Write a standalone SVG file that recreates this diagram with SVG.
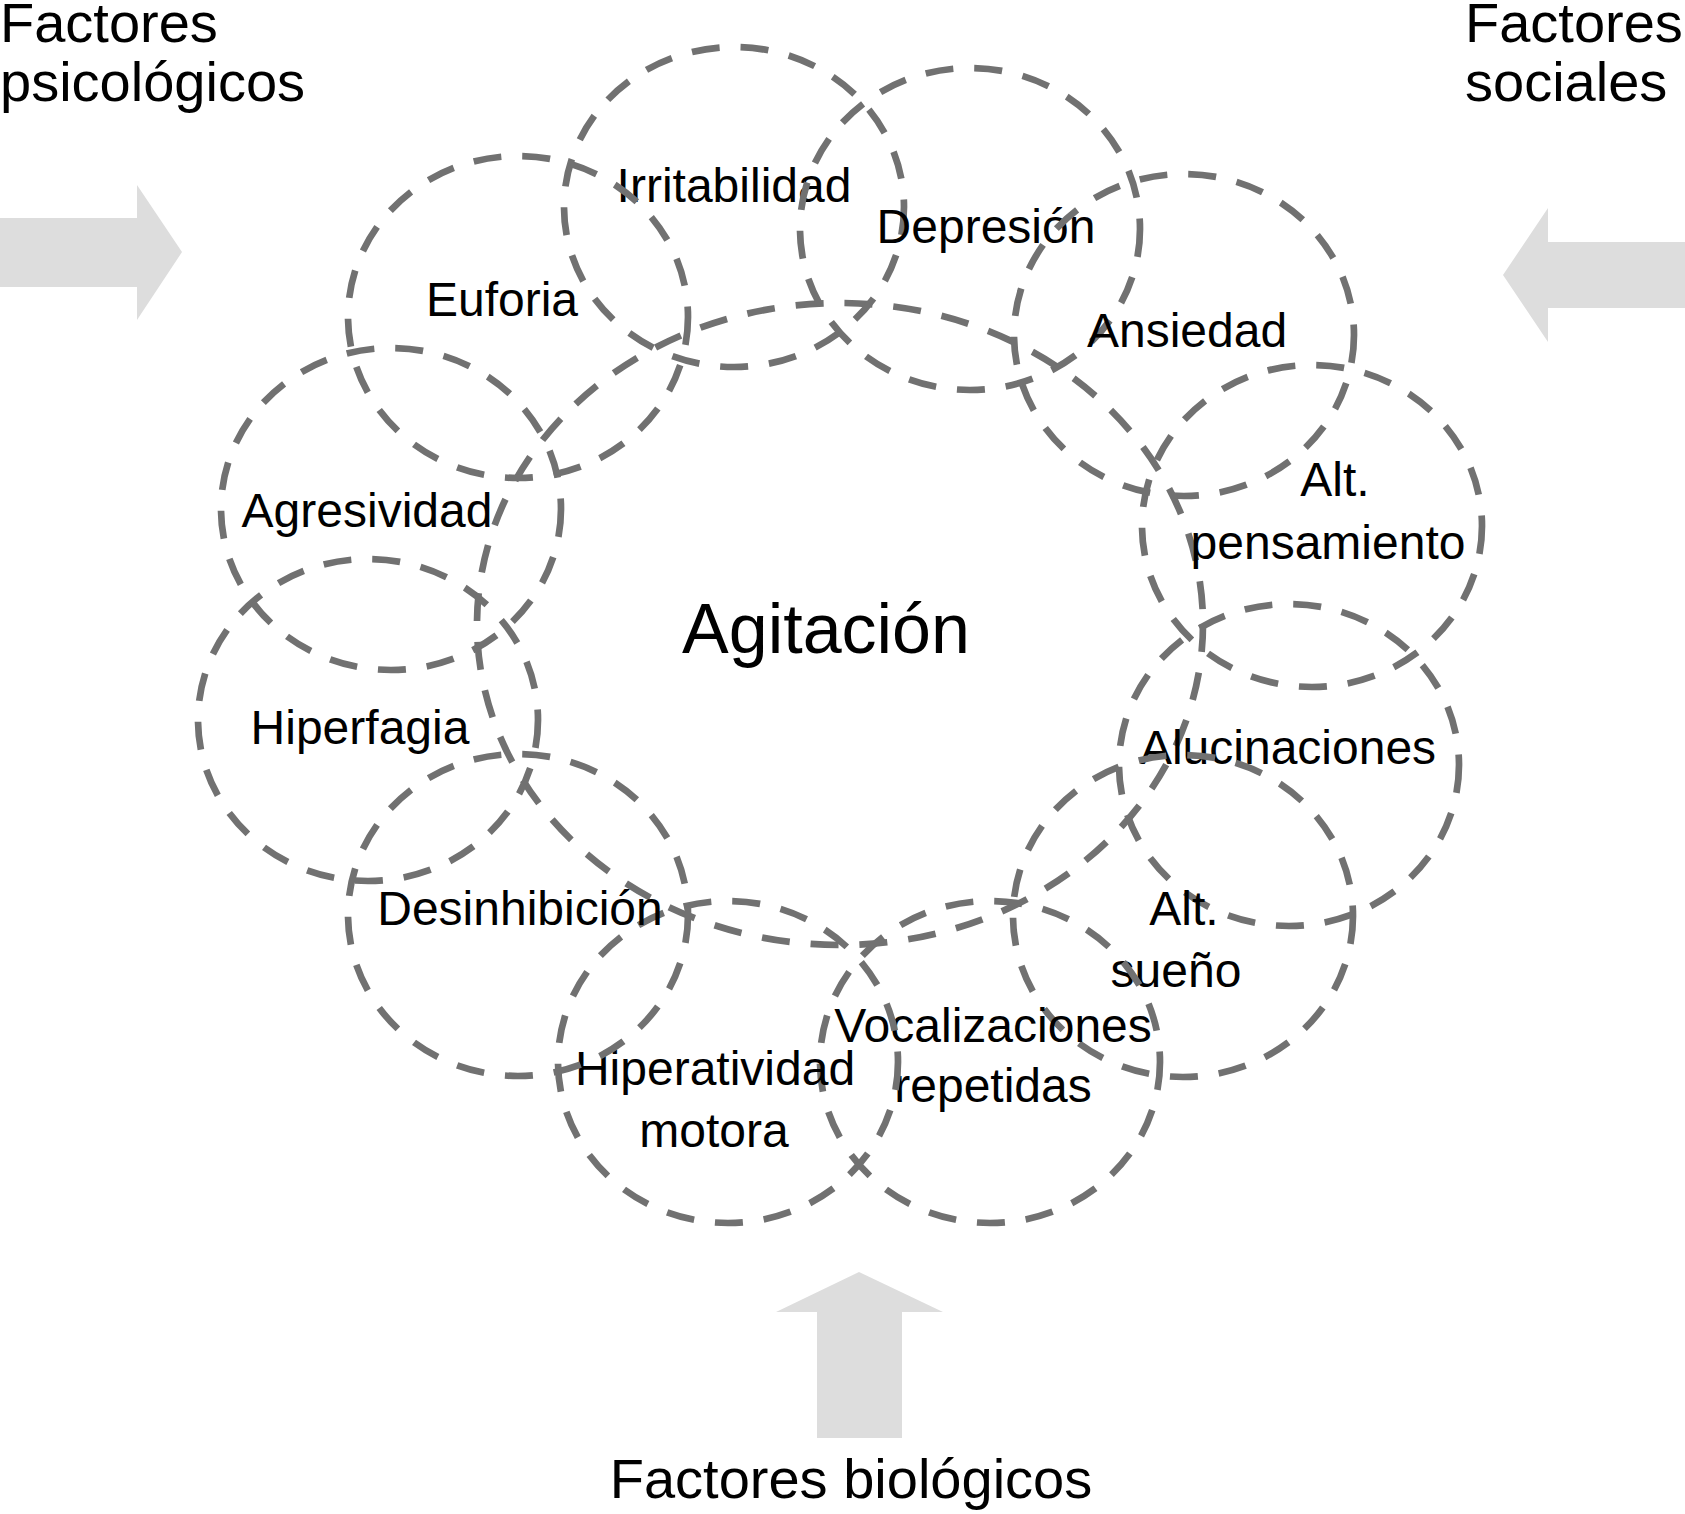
<svg xmlns="http://www.w3.org/2000/svg" width="1685" height="1514" viewBox="0 0 1685 1514">
  <style>
    .bg { fill: #ffffff; }
    .ring { fill: none; stroke: #717171; stroke-width: 6.7; stroke-dasharray: 28 21; }
    .lbl { font-family: "Liberation Sans", Arial, Helvetica, sans-serif; font-size: 48px; fill: #000000; text-anchor: middle; }
    .big { font-family: "Liberation Sans", Arial, Helvetica, sans-serif; font-size: 70px; fill: #000000; text-anchor: middle; }
    .fac { font-family: "Liberation Sans", Arial, Helvetica, sans-serif; font-size: 56px; fill: #000000; }
    .arrow { fill: #dddddd; stroke: none; }
  </style>
  <rect class="bg" x="0" y="0" width="1685" height="1514"/>

  <g id="connectors">
    <polygon id="arrow-psicologicos" class="arrow" points="0,218 137,218 137,185 182,252 137,320 137,287 0,287"/>
    <polygon id="arrow-sociales" class="arrow" points="1685,242 1548,242 1548,208 1503,275 1548,342 1548,308 1685,308"/>
    <polygon id="arrow-biologicos" class="arrow" points="817,1438 817,1312 776,1312 859,1272 943,1312 902,1312 902,1438"/>
  </g>

  <g id="agitacion">
    <ellipse class="ring" cx="840" cy="624" rx="363" ry="321"/>
    <text class="big" x="826" y="653">Agitación</text>
  </g>

  <g id="irritabilidad">
    <ellipse class="ring" cx="734" cy="207" rx="170" ry="160"/>
    <text class="lbl" x="734" y="202">Irritabilidad</text>
  </g>
  <g id="depresion">
    <ellipse class="ring" cx="970" cy="229" rx="170" ry="161"/>
    <text class="lbl" x="986" y="243">Depresión</text>
  </g>
  <g id="ansiedad">
    <ellipse class="ring" cx="1184" cy="335" rx="170" ry="161"/>
    <text class="lbl" x="1187" y="347">Ansiedad</text>
  </g>
  <g id="alt-pensamiento">
    <ellipse class="ring" cx="1312" cy="526" rx="170" ry="161"/>
    <text class="lbl" x="1335" y="496">Alt.</text>
    <text class="lbl" x="1328" y="559">pensamiento</text>
  </g>
  <g id="alucinaciones">
    <ellipse class="ring" cx="1289" cy="765" rx="170" ry="161"/>
    <text class="lbl" x="1288" y="764">Alucinaciones</text>
  </g>
  <g id="alt-sueno">
    <ellipse class="ring" cx="1183" cy="916" rx="170" ry="161"/>
    <text class="lbl" x="1184" y="925">Alt.</text>
    <text class="lbl" x="1176" y="987">sueño</text>
  </g>
  <g id="vocalizaciones">
    <ellipse class="ring" cx="990" cy="1062" rx="170" ry="161"/>
    <text class="lbl" x="993" y="1042">Vocalizaciones</text>
    <text class="lbl" x="993" y="1102">repetidas</text>
  </g>
  <g id="hiperatividad">
    <ellipse class="ring" cx="728" cy="1062" rx="170" ry="161"/>
    <text class="lbl" x="715" y="1085">Hiperatividad</text>
    <text class="lbl" x="714" y="1147">motora</text>
  </g>
  <g id="desinhibicion">
    <ellipse class="ring" cx="518" cy="915" rx="170" ry="161"/>
    <text class="lbl" x="520" y="925">Desinhibición</text>
  </g>
  <g id="hiperfagia">
    <ellipse class="ring" cx="368" cy="720" rx="170" ry="161"/>
    <text class="lbl" x="360" y="744">Hiperfagia</text>
  </g>
  <g id="agresividad">
    <ellipse class="ring" cx="391" cy="509" rx="170" ry="161"/>
    <text class="lbl" x="367" y="527">Agresividad</text>
  </g>
  <g id="euforia">
    <ellipse class="ring" cx="518" cy="317" rx="170" ry="161"/>
    <text class="lbl" x="502" y="316">Euforia</text>
  </g>

  <g id="factores-psicologicos">
    <text class="fac" x="0" y="42">Factores</text>
    <text class="fac" x="0" y="101">psicológicos</text>
  </g>
  <g id="factores-sociales">
    <text class="fac" x="1465" y="42">Factores</text>
    <text class="fac" x="1465" y="101">sociales</text>
  </g>
  <g id="factores-biologicos">
    <text class="fac" x="851" y="1498" text-anchor="middle">Factores biológicos</text>
  </g>
</svg>
